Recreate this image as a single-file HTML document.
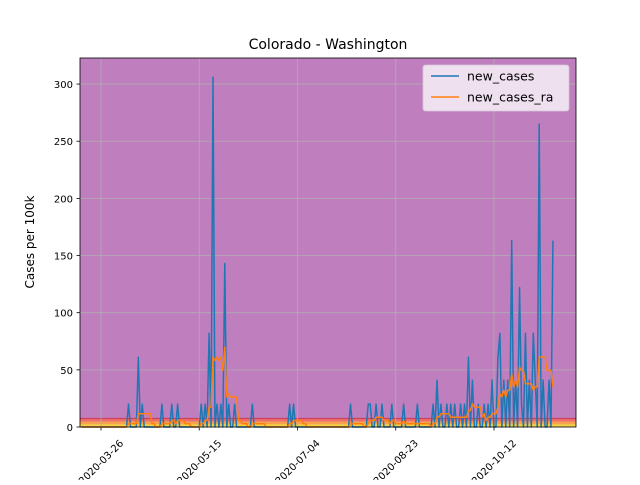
<!DOCTYPE html>
<html><head><meta charset="utf-8"><style>
body{margin:0;background:#fff;font-family:"Liberation Sans","DejaVu Sans",sans-serif;}
svg text{font-family:"DejaVu Sans","Liberation Sans",sans-serif;}
</style></head><body>
<svg id="chart" width="640" height="480" viewBox="0 0 640 480">
<text x="328" y="49" text-anchor="middle" font-size="14">Colorado - Washington</text>
<text transform="translate(34,242) rotate(-90)" text-anchor="middle" font-size="12">Cases per 100k</text>
<g id="plot"></g>
</svg>
<script>
const spikeDays=[24,29,31,41,46,49,61,63,65,67,69,71,73,75,78,87,106,108,137,146,147,150,153,158,164,171,179,181,183,186,188,190,193,195,197,199,202,205,207,209,212,213,215,217,219,221,223,224,226,228,230,231,233,235,238,240];
const spikeVals=[20,61,20,20,20,20,20,20,82,306,20,20,143,20,20,20,20,20,20,20,20,20,20,20,20,20,20,41,20,20,20,20,20,20,61,41,20,20,20,41,61,82,41,41,163,41,122,20,82,41,82,41,265,41,41,163];
const nDays=241;
const startDate=new Date(Date.UTC(2020,2,16));
const tickLabels=["2020-03-26","2020-05-15","2020-07-04","2020-08-23","2020-10-12"];
const yTicks=[0,50,100,150,200,250,300];
const bands=[[0,2.5,"#f5d142"],[2.5,5,"#f7a04f"],[5,7.5,"#ef6a6a"]];

const L=80,R=576,T=58,B=427,yMax=322.8;
function x(d){return 81.35+d*1.965;}
function y(v){return B-(v/yMax)*(B-T);}
function dateToDay(s){const p=s.split('-');return (Date.UTC(+p[0],+p[1]-1,+p[2])-startDate)/86400000;}

const cases=new Array(nDays).fill(0);
spikeDays.forEach((d,i)=>{cases[d]=spikeVals[i];});
const ra=cases.map((v,i)=>{let s=0;for(let k=Math.max(0,i-6);k<=i;k++){s+=cases[k];}return s/7;});

const NS="http://www.w3.org/2000/svg";
const g=document.getElementById('plot');
function mk(tag,attrs,parent){const e=document.createElementNS(NS,tag);for(const k in attrs)e.setAttribute(k,attrs[k]);(parent||g).appendChild(e);return e;}

const bg=mk('rect',{x:L,y:T,width:R-L,height:B-T,fill:'#bf7fbf'});


bands.forEach(b=>{const r=mk('rect',{x:L,y:y(b[1]),width:R-L,height:y(b[0])-y(b[1]),fill:b[2]});

});
const tl=mk('line',{x1:L,x2:R,y1:y(7.5),y2:y(7.5),stroke:'#c8405a','stroke-width':1.2});



yTicks.forEach(v=>{const gl=mk('line',{x1:L,x2:R,y1:y(v),y2:y(v),stroke:'#b0b0b0','stroke-width':0.8,opacity:0.9});


mk('line',{x1:L-3.5,x2:L,y1:y(v),y2:y(v),stroke:'#000','stroke-width':0.8});
const t=mk('text',{x:L-7,y:y(v)+4,'text-anchor':'end','font-size':10});t.textContent=v;

});
tickLabels.forEach(s=>{const xx=x(dateToDay(s));
const gl=mk('line',{x1:xx,x2:xx,y1:T,y2:B,stroke:'#b0b0b0','stroke-width':0.8,opacity:0.9});


mk('line',{x1:xx,x2:xx,y1:B,y2:B+3.5,stroke:'#000','stroke-width':0.8});
const t=mk('text',{x:0,y:3.5,'text-anchor':'middle','font-size':10,transform:`translate(${xx},${B+35}) rotate(-45)`});t.textContent=s;

});

function path(arr){return arr.map((v,i)=>(i?'L':'M')+x(i).toFixed(2)+','+y(v).toFixed(2)).join(' ');}
const p1=mk('path',{d:path(cases),fill:'none',stroke:'#1f77b4','stroke-width':1.5,'stroke-linejoin':'round'});


const p2=mk('path',{d:path(ra),fill:'none',stroke:'#ff7f0e','stroke-width':1.5,'stroke-linejoin':'round'});



const fr=mk('rect',{x:L,y:T,width:R-L,height:B-T,fill:'none',stroke:'#000','stroke-width':0.8});



const lg=mk('g',{});


mk('rect',{x:423,y:65,width:146,height:46,rx:2.5,fill:'#f2e6f2',stroke:'#d8c8d8','stroke-width':0.8,opacity:0.95},lg);
[["new_cases","#1f77b4",76],["new_cases_ra","#ff7f0e",97]].forEach(e=>{
const eg=mk('g',{},lg);


mk('line',{x1:431,x2:459,y1:e[2],y2:e[2],stroke:e[1],'stroke-width':1.5},eg);
const t=mk('text',{x:467,y:e[2]+4.5,'font-size':12.5},eg);t.textContent=e[0];});
</script>
</body></html>
